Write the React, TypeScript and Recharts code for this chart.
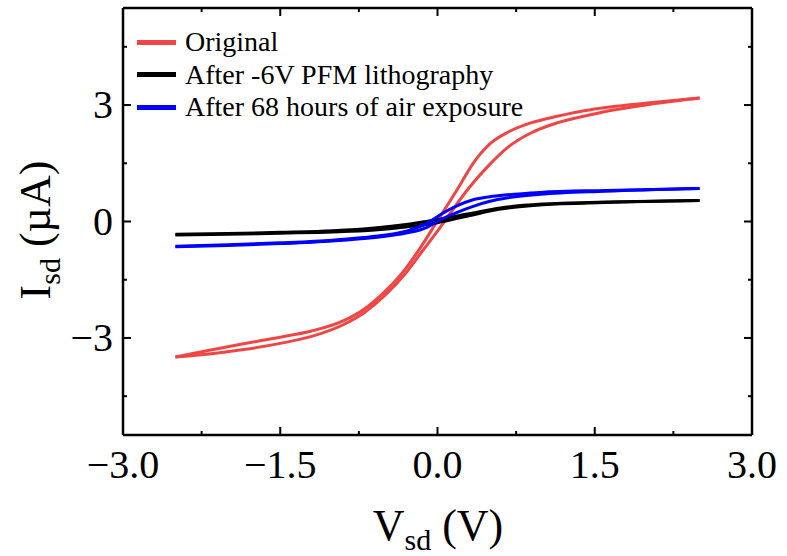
import React from "react";
import { Line, LineChart, XAxis, YAxis } from "recharts";

// I-V sweeps, each loop split into its two branches: [Vsd (V), Isd (µA)]
const originalUp: [number, number][] = [
  [-2.5, -3.49], [-2.2, -3.33], [-1.85, -3.15], [-1.5, -2.98], [-1.2, -2.82],
  [-0.9, -2.56], [-0.7, -2.26], [-0.5, -1.8], [-0.3, -1.2], [-0.15, -0.62],
  [0, 0.02], [0.19, 0.83], [0.34, 1.5], [0.5, 2.0], [0.67, 2.3],
  [0.89, 2.54], [1.14, 2.71], [1.46, 2.88], [1.65, 2.95], [2.0, 3.05], [2.5, 3.18],
];
const originalDown: [number, number][] = [
  [-2.5, -3.49], [-2.2, -3.42], [-1.85, -3.3], [-1.5, -3.14], [-1.2, -2.96],
  [-0.9, -2.66], [-0.7, -2.35], [-0.5, -1.9], [-0.3, -1.32], [-0.15, -0.78],
  [0, -0.25], [0.1, 0.13], [0.29, 0.83], [0.48, 1.42], [0.67, 1.91],
  [0.89, 2.28], [1.14, 2.54], [1.46, 2.75], [1.65, 2.86], [2.03, 3.02], [2.5, 3.18],
];
const lithoUp: [number, number][] = [
  [-2.5, -0.33], [-2, -0.31], [-1.5, -0.28], [-1, -0.24], [-0.6, -0.17],
  [-0.3, -0.08], [0, 0.05], [0.3, 0.2], [0.6, 0.35], [1, 0.45], [1.6, 0.5], [2.5, 0.54],
];
const lithoDown: [number, number][] = [
  [-2.5, -0.35], [-2, -0.33], [-1.5, -0.3], [-1, -0.27], [-0.6, -0.22],
  [-0.3, -0.14], [0, -0.03], [0.3, 0.15], [0.6, 0.32], [1, 0.43], [1.6, 0.49], [2.5, 0.54],
];
const airUp: [number, number][] = [
  [-2.5, -0.64], [-2, -0.6], [-1.5, -0.55], [-1, -0.48], [-0.6, -0.38],
  [-0.3, -0.25], [-0.1, -0.05], [0.03, 0.18], [0.2, 0.42], [0.34, 0.56],
  [0.5, 0.64], [0.67, 0.69], [0.98, 0.75], [1.6, 0.8], [2.5, 0.85],
];
const airDown: [number, number][] = [
  [-2.5, -0.65], [-2, -0.62], [-1.5, -0.57], [-1, -0.5], [-0.6, -0.41],
  [-0.3, -0.3], [-0.1, -0.15], [0.03, 0.05], [0.2, 0.25], [0.34, 0.39],
  [0.5, 0.52], [0.67, 0.61], [0.98, 0.7], [1.6, 0.78], [2.5, 0.85],
];

const seriesNames = ["Original", "After -6V PFM lithography", "After 68 hours of air exposure"];
const seriesColors = ["#f04545", "#000000", "#0000ff"];

const xTicks = [-3, -2.25, -1.5, -0.75, 0, 0.75, 1.5, 2.25, 3];
const xMajor = [-3, -1.5, 0, 1.5, 3];
const yTicks = [-4.5, -3, -1.5, 0, 1.5, 3, 4.5];
const yMajor = [-3, 0, 3];

const FONT = "'Liberation Serif', 'Times New Roman', serif";

const toRows = (pts: [number, number][]) => pts.map(([v, i]) => ({ v, i }));

const fmtX = (v: number) => (v < 0 ? "\u2212" : "") + Math.abs(v).toFixed(1);
const fmtY = (v: number) => (v < 0 ? "\u2212" : "") + Math.abs(v).toString();

function BottomTick(props: any) {
  const { x, y, payload } = props;
  const major = xMajor.includes(payload.value);
  return (
    <g>
      <line x1={x} x2={x} y1={y} y2={y - (major ? 8 : 4)} stroke="#000" strokeWidth={2} />
      {major && (
        <text x={x} y={y + 43} textAnchor="middle" fontSize={40} fontFamily={FONT} fill="#000">
          {fmtX(payload.value)}
        </text>
      )}
    </g>
  );
}

function TopTick(props: any) {
  const { x, y, payload } = props;
  const major = xMajor.includes(payload.value);
  return <line x1={x} x2={x} y1={y} y2={y + (major ? 8 : 4)} stroke="#000" strokeWidth={2} />;
}

function LeftTick(props: any) {
  const { x, y, payload } = props;
  const major = yMajor.includes(payload.value);
  return (
    <g>
      <line x1={x} x2={x + (major ? 8 : 4)} y1={y} y2={y} stroke="#000" strokeWidth={2} />
      {major && (
        <text x={x - 10} y={y + 13} textAnchor="end" fontSize={40} fontFamily={FONT} fill="#000">
          {fmtY(payload.value)}
        </text>
      )}
    </g>
  );
}

function RightTick(props: any) {
  const { x, y, payload } = props;
  const major = yMajor.includes(payload.value);
  return <line x1={x} x2={x - (major ? 8 : 4)} y1={y} y2={y} stroke="#000" strokeWidth={2} />;
}

const XTitle = () => (
  <text x={438} y={540} textAnchor="middle" fontSize={44} fontFamily={FONT} fill="#000">
    V<tspan fontSize={30} dy={10}>sd</tspan>
    <tspan dy={-10}> (V)</tspan>
  </text>
);

const YTitle = () => (
  <text
    x={-230}
    y={50}
    transform="rotate(-90)"
    textAnchor="middle"
    fontSize={44}
    fontFamily={FONT}
    fill="#000"
  >
    I<tspan fontSize={30} dy={10}>sd</tspan>
    <tspan dy={-10}> (µA)</tspan>
  </text>
);

function LegendBox() {
  return (
    <div
      style={{
        position: "absolute",
        left: 137,
        top: 26,
        fontFamily: FONT,
        fontSize: 28,
        lineHeight: "32.5px",
        color: "#000",
        pointerEvents: "none",
      }}
    >
      {seriesNames.map((name, k) => (
        <div key={name} style={{ display: "flex", alignItems: "center", height: 32.5, whiteSpace: "nowrap" }}>
          <span style={{ display: "inline-block", width: 39, height: 5, background: seriesColors[k], marginRight: 9 }} />
          <span>{name}</span>
        </div>
      ))}
    </div>
  );
}

const branches = [
  { data: originalUp, color: seriesColors[0] },
  { data: originalDown, color: seriesColors[0] },
  { data: lithoUp, color: seriesColors[1] },
  { data: lithoDown, color: seriesColors[1] },
  { data: airUp, color: seriesColors[2] },
  { data: airDown, color: seriesColors[2] },
];

export default function App() {
  const axisLine = { stroke: "#000", strokeWidth: 2.5 };
  return (
    <div style={{ position: "absolute", left: 0, top: 0, width: 787, height: 556, background: "#fff" }}>
      <LineChart width={787} height={556} margin={{ top: 7, right: 34, bottom: 120, left: 122 }}>
        <XAxis
          xAxisId="b"
          type="number"
          dataKey="v"
          domain={[-3, 3]}
          ticks={xTicks}
          interval={0}
          allowDataOverflow
          height={1}
          tickSize={0}
          tickMargin={0}
          axisLine={axisLine}
          tick={<BottomTick />}
          label={{ content: () => <XTitle /> }}
        />
        <XAxis
          xAxisId="t"
          orientation="top"
          type="number"
          dataKey="v"
          domain={[-3, 3]}
          ticks={xTicks}
          interval={0}
          allowDataOverflow
          height={1}
          tickSize={0}
          tickMargin={0}
          axisLine={axisLine}
          tick={<TopTick />}
        />
        <YAxis
          yAxisId="l"
          type="number"
          dataKey="i"
          domain={[-5.5, 5.5]}
          ticks={yTicks}
          interval={0}
          allowDataOverflow
          width={1}
          tickSize={0}
          tickMargin={0}
          axisLine={axisLine}
          tick={<LeftTick />}
          label={{ content: () => <YTitle /> }}
        />
        <YAxis
          yAxisId="r"
          orientation="right"
          type="number"
          dataKey="i"
          domain={[-5.5, 5.5]}
          ticks={yTicks}
          interval={0}
          allowDataOverflow
          width={1}
          tickSize={0}
          tickMargin={0}
          axisLine={axisLine}
          tick={<RightTick />}
        />
        {branches.map((b, k) => (
          <Line
            key={k}
            xAxisId="b"
            yAxisId="l"
            data={toRows(b.data)}
            dataKey="i"
            type="monotone"
            stroke={b.color}
            strokeWidth={3}
            dot={false}
            activeDot={false}
            isAnimationActive={false}
          />
        ))}
      </LineChart>
      <LegendBox />
    </div>
  );
}
